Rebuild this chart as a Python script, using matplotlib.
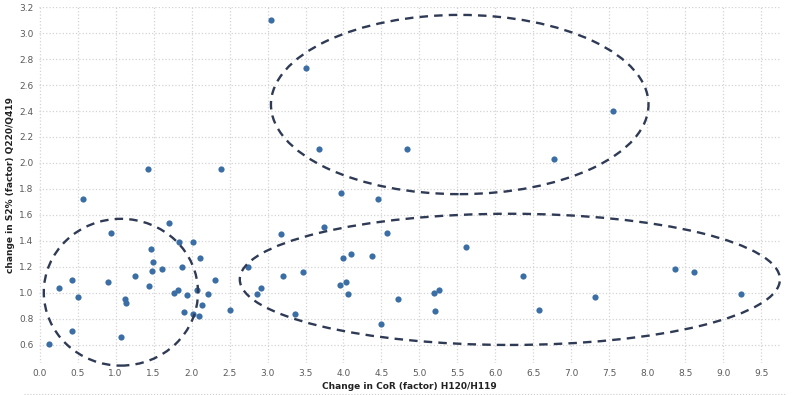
import numpy as np
import matplotlib
matplotlib.use("Agg")
import matplotlib.pyplot as plt
from matplotlib.patches import Ellipse

# change in CoR (factor) H120/H119 vs change in S2% (factor) Q220/Q419
cor_change = [0.13, 0.25, 0.42, 0.51, 0.42, 0.57, 0.90, 0.94, 1.07, 1.12,
              1.14, 1.25, 1.44, 1.47, 1.49, 1.48, 1.61, 1.70, 1.83, 1.87,
              1.82, 1.77, 1.90, 1.94, 2.02, 2.11, 2.07, 2.02, 2.10, 2.14,
              2.22, 2.31, 2.50, 2.74, 2.86, 2.92, 3.18, 3.21, 3.36, 3.05,
              1.43, 2.39, 3.51, 3.68, 4.84, 6.77, 7.55, 3.97, 4.46, 3.47,
              3.75, 4.00, 4.10, 4.38, 4.57, 3.96, 4.03, 4.06, 4.50, 4.72,
              5.19, 5.26, 5.21, 5.61, 6.36, 6.57, 7.31, 8.36, 8.61, 9.23]
s2_change = [0.61, 1.04, 1.10, 0.97, 0.71, 1.72, 1.08, 1.46, 0.66, 0.95,
             0.92, 1.13, 1.05, 1.34, 1.24, 1.17, 1.18, 1.54, 1.39, 1.20,
             1.02, 1.00, 0.85, 0.98, 1.39, 1.27, 1.02, 0.84, 0.82, 0.91,
             0.99, 1.10, 0.87, 1.20, 0.99, 1.04, 1.45, 1.13, 0.84, 3.10,
             1.95, 1.95, 2.73, 2.11, 2.11, 2.03, 2.40, 1.77, 1.72, 1.16,
             1.51, 1.27, 1.30, 1.28, 1.46, 1.06, 1.08, 0.99, 0.76, 0.95,
             1.00, 1.02, 0.86, 1.35, 1.13, 0.87, 0.97, 1.18, 1.16, 0.99]

# cluster outlines: centre x, centre y, width, height
clusters = [(1.07, 1.005, 2.03, 1.13),
            (6.19, 1.104, 7.11, 1.01),
            (5.53, 2.45, 4.97, 1.38)]

xticks = np.arange(0, 9.51, 0.5)
yticks = np.arange(0.6, 3.21, 0.2)

fig = plt.figure(figsize=(7.93, 3.95), dpi=100)
ax = fig.add_axes([0.049, 0.081, 0.935, 0.901])

ax.scatter(cor_change, s2_change, s=20, color="#3a6ea5", zorder=3, linewidths=0)

for cx, cy, w, h in clusters:
    ax.add_patch(Ellipse((cx, cy), w, h, fill=False, edgecolor="#2f3a55",
                         linewidth=1.7, linestyle=(0, (3.6, 2.6)), zorder=4,
                         clip_on=False))

ax.set_xlim(-0.01, 9.75)
ax.set_ylim(0.46, 3.2)
ax.set_xticks(xticks)
ax.set_yticks(yticks)
ax.set_xticklabels([f"{t:.1f}" for t in xticks])
ax.set_yticklabels([f"{t:.1f}" for t in yticks])
ax.tick_params(length=0, labelsize=6.5, labelcolor="#5a5a5a", pad=4)
ax.grid(True, color="#d4d4d4", linestyle=":", linewidth=0.9)
ax.set_axisbelow(True)
for sp in ax.spines.values():
    sp.set_visible(False)

ax.set_xlabel("Change in CoR (factor) H120/H119", fontsize=6.5,
              fontweight="bold", color="#222222", labelpad=3)
ax.set_ylabel("change in S2% (factor) Q220/Q419", fontsize=6.5,
              fontweight="bold", color="#222222", labelpad=3)

fig.add_artist(plt.Line2D([0.03, 0.99], [0.003, 0.003], color="#cccccc",
                          linestyle=":", linewidth=0.8))

fig.savefig("out.png", dpi=100)
